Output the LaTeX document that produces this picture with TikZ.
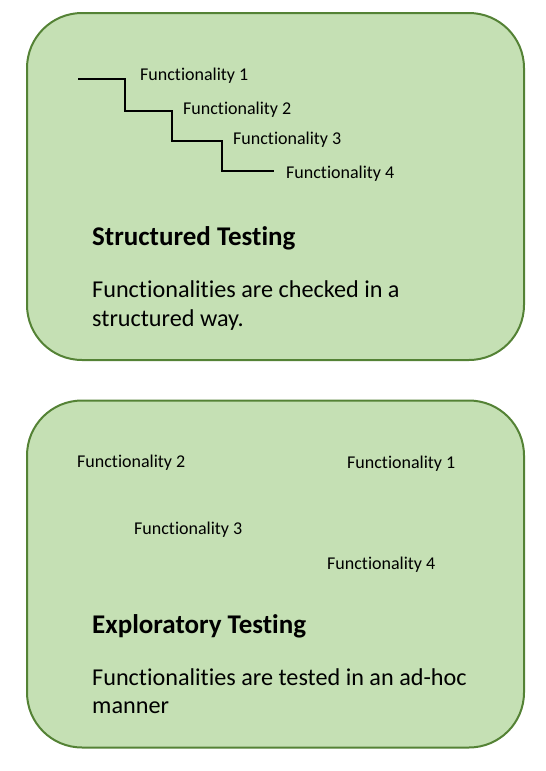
\documentclass[tikz,border=0pt]{standalone}
\usepackage{fontspec}
\setmainfont{Carlito}[Ligatures={NoCommon}]
\definecolor{panelfill}{HTML}{C5E0B4}
\definecolor{paneldraw}{HTML}{548235}
\begin{document}
\begin{tikzpicture}[x=1pt,y=-1pt,
  panel/.style={draw=paneldraw, fill=panelfill, line width=2pt, rounded corners=55pt,
    minimum width=497pt, minimum height=347pt, inner sep=0pt},
  small/.style={anchor=base west, inner sep=0pt, font=\fontsize{18}{21}\selectfont},
  title/.style={anchor=base west, inner sep=0pt, font=\fontsize{27}{32}\selectfont\bfseries},
  body/.style={anchor=base west, inner sep=0pt, font=\fontsize{24.2}{29}\selectfont},
  stair/.style={line width=2pt, black}]
\useasboundingbox (0,0) rectangle (546,771);
\node[panel] (top) at (275.5,186.5) {};
\node[panel] (bot) at (275.5,574) {};
% staircase
\coordinate (s0) at (78,79);
\coordinate (s1) at (125,79);
\coordinate (s2) at (125,111);
\coordinate (s3) at (172,111);
\coordinate (s4) at (172,141);
\coordinate (s5) at (222,141);
\coordinate (s6) at (222,171);
\coordinate (s7) at (274,171);
\draw[stair] (s0) -- (s1) -- (s2) -- (s3) -- (s4) -- (s5) -- (s6) -- (s7);
\node[small] (a1) at (140,80) {Functionality 1};
\node[small] (a2) at (183,114) {Functionality 2};
\node[small] (a3) at (233,144) {Functionality 3};
\node[small] (a4) at (286,178) {Functionality 4};
\node[title] (t1) at (92,245) {Structured Testing};
\node[body] (b1a) at (92,297) {Functionalities are checked in a};
\node[body] (b1b) at (92,326) {structured way.};
% bottom
\node[small] (c2) at (77,467) {Functionality 2};
\node[small] (c1) at (347,468) {Functionality 1};
\node[small] (c3) at (134,534) {Functionality 3};
\node[small] (c4) at (327,569) {Functionality 4};
\node[title] (t2) at (92,633) {Exploratory Testing};
\node[body] (b2a) at (92,685) {Functionalities are tested in an ad-hoc};
\node[body] (b2b) at (92,713) {manner};
\end{tikzpicture}
\end{document}
